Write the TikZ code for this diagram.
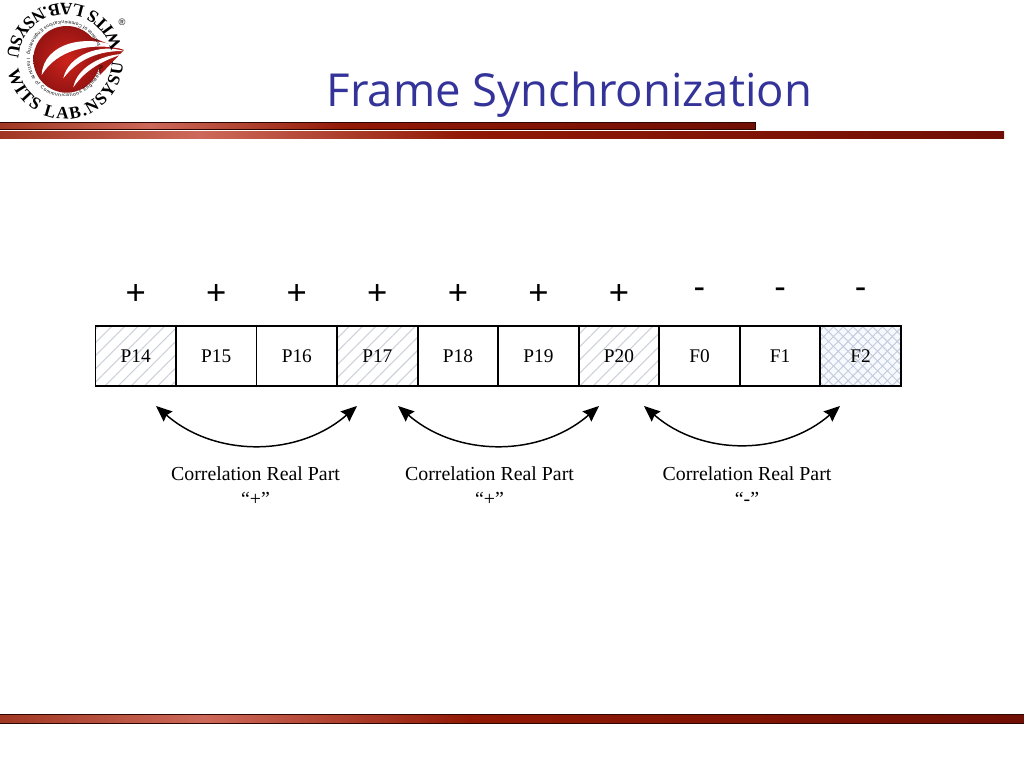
\documentclass[tikz,border=0pt]{standalone}
\usepackage{fontspec}
\setmainfont{Liberation Serif}
\newfontfamily\titlefont{Open Sans}
\newfontfamily\ringfont{Liberation Sans}
\usetikzlibrary{positioning,arrows.meta,patterns.meta,decorations.text}
\definecolor{barleft}{RGB}{160,55,35}
\definecolor{barlight}{RGB}{205,105,90}
\definecolor{barred}{RGB}{145,25,5}
\definecolor{bardark}{RGB}{112,15,5}
\definecolor{titleblue}{RGB}{51,51,153}
\definecolor{hatchgray}{RGB}{205,208,216}
\definecolor{crossblue}{RGB}{195,203,220}
\definecolor{crossfill}{RGB}{246,249,253}
\definecolor{logored}{RGB}{205,35,28}
\definecolor{logodark}{RGB}{150,20,18}
\pgfdeclarehorizontalshading{barshade}{100bp}{
    color(0bp)=(barleft); color(25bp)=(barleft); color(35bp)=(barlight);
    color(48bp)=(barred); color(75bp)=(bardark); color(100bp)=(bardark)
}
\tikzset{
    framebox/.style={draw, line width=1.4pt, minimum width=60.4pt, minimum height=45pt, inner sep=0pt, outer sep=0pt, font=\fontsize{14.5}{16}\selectfont},
    plainbox/.style={framebox},
    hatchbox/.style={framebox, preaction={pattern={Lines[angle=45, distance=7pt, line width=0.8pt]}, pattern color=hatchgray}},
    crossbox/.style={framebox, preaction={fill=crossfill}, preaction={pattern={Lines[angle=45, distance=5.2pt, line width=0.7pt]}, pattern color=crossblue}, preaction={pattern={Lines[angle=-45, distance=5.2pt, line width=0.7pt]}, pattern color=crossblue}},
    signnode/.style={font=\ringfont\fontsize{26}{28}\selectfont, inner sep=0pt, anchor=center},
    swaparrow/.style={line width=1.1pt, {Stealth[length=12pt, width=10pt, inset=1.5pt]}-{Stealth[length=12pt, width=10pt, inset=1.5pt]}, out=-41, in=-139},
    corrlabel/.style={align=center, font=\fontsize{14.9}{18.8}\selectfont},
    barstrip/.style={shading=barshade, draw=black!70!barred, line width=0.5pt},
    ringtext/.style={decorate, decoration={text along path, text align={fit to path}, text={#1}}}
}
\begin{document}
\begin{tikzpicture}[x=0.75pt, y=0.75pt]
    \useasboundingbox (0,0) rectangle (1024,768);

    \path[barstrip] (-1,638.5) rectangle (755,645.5);
    \path[barstrip, draw=none] (-1,629) rectangle (1004,636);
    \path[barstrip] (-1,45) rectangle (1025,54);
    \node[font=\titlefont\fontsize{34.1}{36}\selectfont, text=titleblue] (title) at (569.5,673.5) {Frame Synchronization};

    \begin{scope}[shift={(0,768)}, x=0.25pt, y=-0.25pt]
        \fill[logodark!70!logored] (275,112) -- (372,150) -- (300,225) -- cycle;
        \shade[inner color=logored, outer color=logodark] (200,178) circle (100);
        \fill[white] (125,225) .. controls (130,130) and (260,95) .. (372,148) .. controls (270,125) and (170,150) .. (125,225);
        \fill[white] (190,235) .. controls (205,165) and (300,130) .. (372,153) .. controls (300,152) and (235,175) .. (190,235);
        \fill[white] (220,262) .. controls (230,205) and (300,165) .. (368,162) .. controls (310,182) and (260,205) .. (220,262);
    \end{scope}
    \path[ringtext={|\bfseries\fontsize{13}{13}\selectfont|WITS LAB.NSYSU}] (65,707) ++(190:58) arc[start angle=190, end angle=358, radius=58];
    \path[ringtext={|\bfseries\fontsize{13}{13}\selectfont|WITS LAB.NSYSU}] (65,707) ++(14:58) arc[start angle=14, end angle=176, radius=58];
    \path[ringtext={|\ringfont\fontsize{3.6}{4}\selectfont|Institute of Communications Engineering}] (65,709) ++(180:38) arc[start angle=180, end angle=350, radius=38];
    \path[ringtext={|\ringfont\fontsize{3.6}{4}\selectfont|Institute of Communications Engineering}] (65,709) ++(20:38) arc[start angle=20, end angle=172, radius=38];
    \node[font=\ringfont\fontsize{7}{7}\selectfont, inner sep=0pt] (regmark) at (122,746) {\textregistered};

    \node[hatchbox] (P14) at (135.75,412) {P14};
    \foreach \name/\kind [remember=\name as \prev (initially P14)] in {P15/plainbox,P16/plainbox,P17/hatchbox,P18/plainbox,P19/plainbox,P20/hatchbox,F0/plainbox,F1/plainbox,F2/crossbox}
        \node[\kind, right=0pt of \prev] (\name) {\name};

    \foreach \name in {P14,P15,P16,P17,P18,P19,P20}
        \node[signnode, above=24pt of \name.north, anchor=center] (plus\name) {+};
    \foreach \name in {F0,F1,F2}
        \node[signnode, above=24.8pt of \name.north, anchor=center] (minus\name) {-};

    \coordinate (a1) at (156,362);
    \coordinate (b1) at (357,362);
    \coordinate (a2) at (398,362);
    \coordinate (b2) at (599,362);
    \coordinate (a3) at (644,362);
    \coordinate (b3) at (840,362);
    \draw[swaparrow] (a1) to (b1);
    \draw[swaparrow] (a2) to (b2);
    \draw[swaparrow] (a3) to (b3);

    \node[corrlabel] (corr1) at (255.5,281.5) {Correlation Real Part\\“+”};
    \node[corrlabel] (corr2) at (489.5,281.5) {Correlation Real Part\\“+”};
    \node[corrlabel] (corr3) at (747,281.5) {Correlation Real Part\\“-”};
\end{tikzpicture}
\end{document}
